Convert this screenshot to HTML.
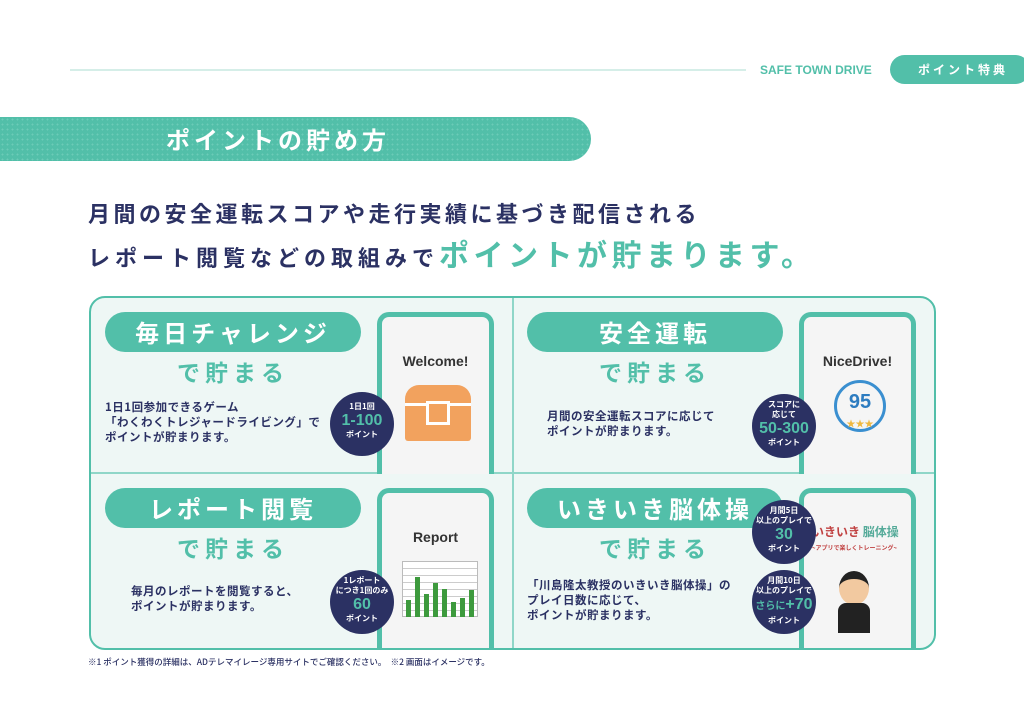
<!DOCTYPE html>
<html><head><meta charset="utf-8"><style>
*{margin:0;padding:0;box-sizing:border-box}
body{width:1024px;height:726px;background:#fff;position:relative;overflow:hidden;font-family:"Liberation Sans","Noto Sans CJK JP",sans-serif;color:#2b3163}
.a{position:absolute}
.jp{font-family:"Noto Sans CJK JP",sans-serif;font-weight:700}
.pill{position:absolute;background:#52bfa9;border-radius:20px;color:#fff;text-align:center;font-size:24px;letter-spacing:4px;line-height:40px}
.sub{position:absolute;color:#52bfa9;font-size:23px;letter-spacing:5px;text-align:center}
.desc{position:absolute;font-size:11.5px;line-height:15px;letter-spacing:.5px}
.phone{position:absolute;border:5px solid #52bfa9;border-bottom:none;border-radius:12px 12px 0 0;background:#f5f5f5;width:117px}
.badge{position:absolute;width:64px;height:64px;border-radius:50%;background:#2b3163;color:#fff;text-align:center;font-size:8px;line-height:10px;padding-top:10px}
.badge b{display:block;color:#52bfa9;font-size:16px;line-height:18px;font-family:"Liberation Sans",sans-serif}
</style></head><body>
<div class="a" style="left:70px;top:69px;width:676px;height:2px;background:#d5eee8"></div>
<div class="a" style="left:760px;top:63px;font-size:12px;font-weight:700;color:#52bfa9">SAFE TOWN DRIVE</div>
<div class="a jp" style="left:890px;top:55px;width:140px;height:29px;border-radius:15px;background:#52bfa9;color:#fff;font-size:12px;letter-spacing:3px;line-height:29px;padding-left:28px">ポイント特典</div>
<div class="a" style="left:0;top:117px;width:591px;height:44px;border-radius:0 22px 22px 0;background:#52bfa9;background-image:radial-gradient(#6ccbb8 1px,transparent 1px);background-size:5px 5px"></div>
<div class="a jp" style="left:166px;top:120px;color:#fff;font-size:24px;letter-spacing:4px;line-height:38px">ポイントの貯め方</div>
<div class="a jp" style="left:88px;top:198px;font-size:22px;letter-spacing:3.5px;line-height:30px">月間の安全運転スコアや走行実績に基づき配信される</div>
<div class="a jp" style="left:88px;top:236px;font-size:22px;letter-spacing:5px;line-height:34px;white-space:nowrap">レポート閲覧などの取組みで<span style="color:#52bfa9;font-size:30px;letter-spacing:4.5px">ポイントが貯まります。</span></div>

<div class="a" style="left:89px;top:296px;width:847px;height:354px;border:2px solid #52bfa9;border-radius:16px;background:#eef7f5;overflow:hidden">
 <div class="a" style="left:421px;top:0;width:2px;height:354px;background:#8fd6c8"></div>
 <div class="a" style="left:0;top:174px;width:847px;height:2px;background:#8fd6c8"></div>
 <div class="phone" style="left:286px;top:14px;height:162px"><div class="a" style="left:0;right:0;top:36px;text-align:center;font-weight:700;font-size:14px;color:#333">Welcome!</div>
  <div class="a" style="left:23px;top:68px;width:66px;height:56px;border-radius:14px 14px 3px 3px;background:#f2a25e"></div><div class="a" style="left:23px;top:86px;width:66px;height:3px;background:#fff"></div><div class="a" style="left:44px;top:84px;width:24px;height:24px;border:3px solid #fff;background:#f2a25e"></div></div>
 <div class="phone" style="left:708px;top:14px;height:162px"><div class="a" style="left:0;right:0;top:36px;text-align:center;font-weight:700;font-size:14px;color:#333">NiceDrive!</div>
  <div class="a" style="left:30px;top:63px;width:52px;height:52px;border-radius:50%;border:3px solid #3a8fd0;text-align:center;color:#2d7cc0;font-weight:700;font-size:20px;line-height:38px">95<div style="font-size:9px;line-height:6px;color:#f0b840">★★★</div></div></div>
 <div class="phone" style="left:286px;top:190px;height:164px"><div class="a" style="left:0;right:0;top:36px;text-align:center;font-weight:700;font-size:14px;color:#333">Report</div>
  <div class="a" style="left:20px;top:68px;width:76px;height:56px;border:1px solid #bbb;background:repeating-linear-gradient(#fff 0 6px,#ccc 6px 7px)"></div>
  <div class="a" style="left:24px;top:107px;width:5px;height:17px;background:#3d9a3d"></div>
  <div class="a" style="left:33px;top:84px;width:5px;height:40px;background:#3d9a3d"></div>
  <div class="a" style="left:42px;top:101px;width:5px;height:23px;background:#3d9a3d"></div>
  <div class="a" style="left:51px;top:90px;width:5px;height:34px;background:#3d9a3d"></div>
  <div class="a" style="left:60px;top:96px;width:5px;height:28px;background:#3d9a3d"></div>
  <div class="a" style="left:69px;top:109px;width:5px;height:15px;background:#3d9a3d"></div>
  <div class="a" style="left:78px;top:105px;width:5px;height:19px;background:#3d9a3d"></div>
  <div class="a" style="left:87px;top:97px;width:5px;height:27px;background:#3d9a3d"></div></div>
 <div class="phone" style="left:708px;top:190px;height:164px"><div class="a jp" style="left:8px;top:30px;font-size:12px;color:#c04040;white-space:nowrap">いきいき <span style="color:#5a9">脳体操</span></div>
  <div class="a jp" style="left:8px;top:50px;font-size:6px;color:#c04040">~アプリで楽しくトレーニング~</div>
  <div class="a" style="left:35px;top:78px;width:30px;height:34px;border-radius:50%;background:#f2c9a0;border-top:8px solid #222"></div>
  <div class="a" style="left:34px;top:110px;width:32px;height:30px;background:#222;border-radius:8px 8px 0 0"></div></div>
 <div class="pill jp" style="left:14px;top:14px;width:256px">毎日チャレンジ</div>
 <div class="sub jp" style="left:14px;top:56px;width:256px">で貯まる</div>
 <div class="desc jp" style="left:14px;top:102px">1日1回参加できるゲーム<br>「わくわくトレジャードライビング」で<br>ポイントが貯まります。</div>
 <div class="pill jp" style="left:436px;top:14px;width:256px">安全運転</div>
 <div class="sub jp" style="left:436px;top:56px;width:256px">で貯まる</div>
 <div class="desc jp" style="left:456px;top:111px">月間の安全運転スコアに応じて<br>ポイントが貯まります。</div>
 <div class="pill jp" style="left:14px;top:190px;width:256px">レポート閲覧</div>
 <div class="sub jp" style="left:14px;top:232px;width:256px">で貯まる</div>
 <div class="desc jp" style="left:40px;top:286px">毎月のレポートを閲覧すると、<br>ポイントが貯まります。</div>
 <div class="pill jp" style="left:436px;top:190px;width:256px">いきいき脳体操</div>
 <div class="sub jp" style="left:436px;top:232px;width:256px">で貯まる</div>
 <div class="desc jp" style="left:436px;top:280px">「川島隆太教授のいきいき脳体操」の<br>プレイ日数に応じて、<br>ポイントが貯まります。</div>
 <div class="badge jp" style="left:239px;top:94px">1日1回<b>1-100</b>ポイント</div>
 <div class="badge jp" style="left:661px;top:96px;padding-top:6px">スコアに<br>応じて<b>50-300</b>ポイント</div>
 <div class="badge jp" style="left:239px;top:272px;padding-top:6px">1レポート<br>につき1回のみ<b>60</b>ポイント</div>
 <div class="badge jp" style="left:661px;top:202px;padding-top:6px">月間5日<br>以上のプレイで<b>30</b>ポイント</div>
 <div class="badge jp" style="left:661px;top:272px;padding-top:6px">月間10日<br>以上のプレイで<b><span style="font-size:10px">さらに</span>+70</b>ポイント</div>
</div>
<div class="a jp" style="left:88px;top:656px;font-size:8.5px;font-weight:500">※1 ポイント獲得の詳細は、ADテレマイレージ専用サイトでご確認ください。　※2 画面はイメージです。</div>
</body></html>
